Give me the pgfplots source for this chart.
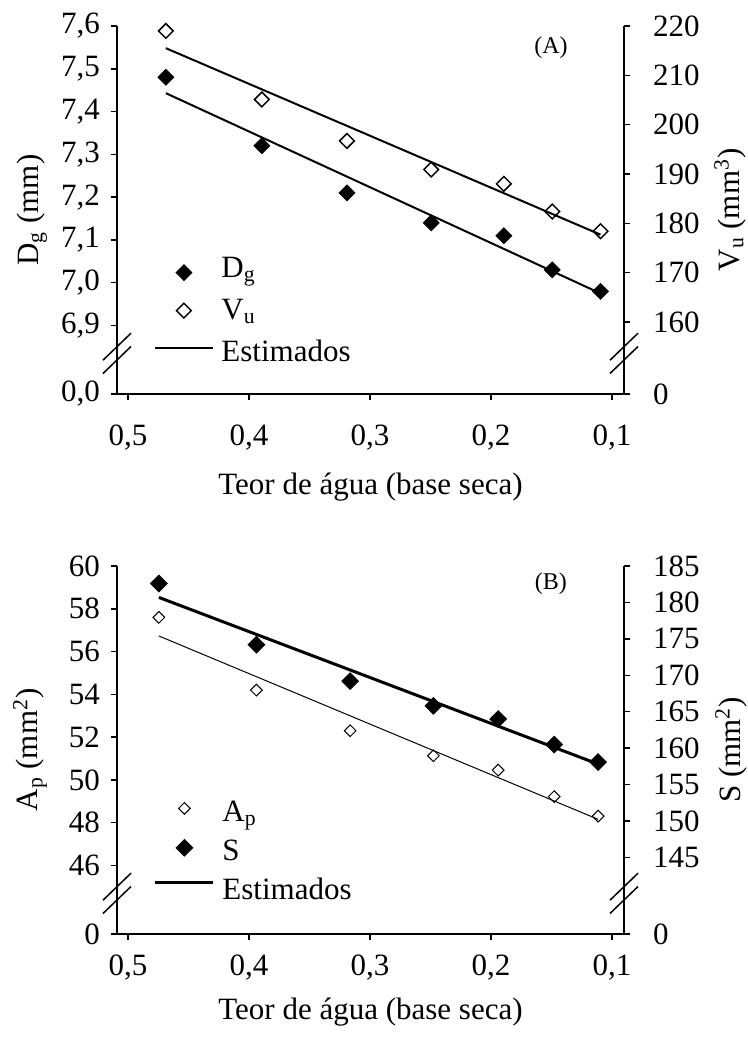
\documentclass[border=0pt]{standalone}
\usepackage{fontspec}
\setmainfont{Liberation Serif}
\usepackage{pgfplots}
\usepackage{pgfplotstable}
\pgfplotsset{compat=1.18}

% painel A
\pgfplotstableread{
x      Dg    Vu
0.4686 7.48  219.0
0.3893 7.32  205.1
0.3190 7.21  196.7
0.2493 7.14  190.9
0.1893 7.11  188.0
0.1493 7.03  182.4
0.1094 6.98  178.4
}\dadosA

% painel B
\pgfplotstableread{
x      Ap     S
0.4744 57.60  182.6
0.3938 54.20  174.2
0.3163 52.30  169.2
0.2475 51.13  165.8
0.1940 50.46  164.0
0.1477 49.22  160.5
0.1114 48.31  158.1
}\dadosB

\newcommand{\fs}{\fontsize{15.5}{18}\selectfont}

\pgfplotsset{
  painel/.style={
    scale only axis,
    width=253.5pt, height=184pt,
    xmin=0.090, xmax=0.509,
    x dir=reverse,
    axis line style={line width=0.75pt, -},
    tick style={line width=0.75pt, black},
    tick align=outside,
    major tick length=3pt,
    clip=false,
    xtick={0.1,0.2,0.3,0.4,0.5},
    xticklabels={{0,1},{0,2},{0,3},{0,4},{0,5}},
    ticklabel style={font=\fs},
    label style={font=\fs},
    /pgf/number format/assume math mode=true,
  },
  esq/.style={
    axis y line*=left, axis x line*=bottom,
    yticklabel style={xshift=-2pt},
    legend cell align=left,
  },
  dir/.style={
    axis y line*=right, axis x line=none,
    yticklabel style={xshift=8pt},
  },
}

\begin{document}
\begin{tikzpicture}
\path[use as bounding box] (-58.5pt,197pt) rectangle (315.5pt,-321.5pt);

% ---------- (A) eixo esquerdo ----------
\begin{axis}[painel, esq, at={(0pt,0pt)}, anchor=south west,
  ymin=6.74, ymax=7.6,
  ytick={6.74,6.9,7.0,7.1,7.2,7.3,7.4,7.5,7.6},
  yticklabels={{0,0},{6,9},{7,0},{7,1},{7,2},{7,3},{7,4},{7,5},{7,6}},
  xticklabel style={yshift=-9pt},
  xlabel={Teor de água (base seca)},
  ylabel={D\textsubscript{g} (mm)},
  xlabel style={at={(axis description cs:0.5,0)}, anchor=center, yshift=-46.5pt},
  ylabel style={at={(axis description cs:-0.168,0.5)}, anchor=center},
  legend style={draw=none, fill=none, inner sep=0pt, row sep=0pt,
    at={(rel axis cs:0.072,0.388)}, anchor=north west, font=\fs,
    nodes={inner xsep=3.75pt, inner ysep=0pt, text height=13pt, text depth=8pt}},
]
\addplot[forget plot, line width=1pt] coordinates {(0.4686,7.443)(0.1094,6.975)};
\addplot[forget plot, only marks, mark=square*, mark size=2.8pt,
  mark options={rotate=45, fill=black, draw=black}] table[x=x, y=Dg] {\dadosA};
\addlegendimage{legend image code/.code={%
  \path[draw=none] (0pt,0pt) (29pt,0pt);
  \path[draw=black, fill=black] plot[only marks, mark=square*, mark size=2.8pt, mark options={rotate=45}] coordinates {(14.5pt,0pt)};}}
\addlegendentry{D\textsubscript{g}}
\addlegendimage{legend image code/.code={%
  \path[draw=none] (0pt,0pt) (29pt,0pt);
  \path[draw=black, line width=0.75pt] plot[only marks, mark=square, mark size=2.6pt, mark options={rotate=45}] coordinates {(14.5pt,2pt)};}}
\addlegendentry{V\textsubscript{u}}
\addlegendimage{legend image code/.code={%
  \draw[black, line width=1pt] (0pt,4.5pt) -- (29pt,4.5pt);}}
\addlegendentry{Estimados}
\end{axis}

% ---------- (A) eixo direito ----------
\begin{axis}[painel, dir, at={(0pt,0pt)}, anchor=south west,
  ymin=145.4, ymax=220,
  ytick={145.4,160,170,180,190,200,210,220},
  yticklabels={0,160,170,180,190,200,210,220},
  ylabel={V\textsubscript{u} (mm\textsuperscript{3})},
  ylabel style={at={(axis description cs:1.209,0.5)}, anchor=center},
]
\addplot[line width=1pt] coordinates {(0.4686,215.5)(0.1094,177.7)};
\addplot[only marks, mark=square, mark size=2.6pt,
  mark options={rotate=45, draw=black, line width=0.75pt}] table[x=x, y=Vu] {\dadosA};
\node[font=\fontsize{12}{14}\selectfont] at (rel axis cs:0.856,0.940) {(A)};
\draw[line width=0.75pt] (rel axis cs:0,0) ++(-7pt,16.9pt) -- ++(14pt,13.5pt);
\draw[line width=0.75pt] (rel axis cs:0,0) ++(-7pt,10.25pt) -- ++(14pt,13.5pt);
\draw[line width=0.75pt] (rel axis cs:1,0) ++(-7pt,16.9pt) -- ++(14pt,13.5pt);
\draw[line width=0.75pt] (rel axis cs:1,0) ++(-7pt,10.25pt) -- ++(14pt,13.5pt);
\end{axis}

% ---------- (B) eixo esquerdo ----------
\begin{axis}[painel, esq, at={(0pt,-270pt)}, anchor=south west,
  ymin=42.8, ymax=60,
  ytick={42.8,46,48,50,52,54,56,58,60},
  yticklabels={0,46,48,50,52,54,56,58,60},
  xticklabel style={yshift=-4pt},
  xlabel={Teor de água (base seca)},
  ylabel={A\textsubscript{p} (mm\textsuperscript{2})},
  xlabel style={at={(axis description cs:0.5,0)}, anchor=center, yshift=-39pt},
  ylabel style={at={(axis description cs:-0.1716,0.5)}, anchor=center},
  legend style={draw=none, fill=none, inner sep=0pt, row sep=0pt,
    at={(rel axis cs:0.072,0.378)}, anchor=north west, font=\fs,
    nodes={inner xsep=3.75pt, inner ysep=0pt, text height=13pt, text depth=6.5pt}},
]
\addplot[forget plot, line width=0.5pt] coordinates {(0.4744,56.73)(0.1114,48.16)};
\addplot[forget plot, only marks, mark=square, mark size=2.06pt,
  mark options={rotate=45, draw=black, line width=0.5pt}] table[x=x, y=Ap] {\dadosB};
\addlegendimage{legend image code/.code={%
  \path[draw=none] (0pt,0pt) (29pt,0pt);
  \path[draw=black, line width=0.5pt] plot[only marks, mark=square, mark size=2.06pt, mark options={rotate=45}] coordinates {(14.5pt,3.2pt)};}}
\addlegendentry{A\textsubscript{p}}
\addlegendimage{legend image code/.code={%
  \path[draw=none] (0pt,0pt) (29pt,0pt);
  \path[draw=black, fill=black] plot[only marks, mark=square*, mark size=2.95pt, mark options={rotate=45}] coordinates {(14.5pt,3pt)};}}
\addlegendentry{S}
\addlegendimage{legend image code/.code={%
  \draw[black, line width=1.5pt] (0pt,5pt) -- (29pt,5pt);}}
\addlegendentry{Estimados}
\end{axis}

% ---------- (B) eixo direito ----------
\begin{axis}[painel, dir, at={(0pt,-270pt)}, anchor=south west,
  ymin=134.5, ymax=185,
  ytick={134.5,145,150,155,160,165,170,175,180,185},
  yticklabels={0,145,150,155,160,165,170,175,180,185},
  ylabel={S (mm\textsuperscript{2})},
  ylabel style={at={(axis description cs:1.211,0.5)}, anchor=center},
]
\addplot[line width=1.5pt] coordinates {(0.4744,180.69)(0.1114,157.82)};
\addplot[only marks, mark=square*, mark size=2.95pt,
  mark options={rotate=45, fill=black, draw=black}] table[x=x, y=S] {\dadosB};
\node[font=\fontsize{12}{14}\selectfont] at (rel axis cs:0.856,0.953) {(B)};
\draw[line width=0.75pt] (rel axis cs:0,0) ++(-7pt,16.9pt) -- ++(14pt,13.5pt);
\draw[line width=0.75pt] (rel axis cs:0,0) ++(-7pt,10.25pt) -- ++(14pt,13.5pt);
\draw[line width=0.75pt] (rel axis cs:1,0) ++(-7pt,16.9pt) -- ++(14pt,13.5pt);
\draw[line width=0.75pt] (rel axis cs:1,0) ++(-7pt,10.25pt) -- ++(14pt,13.5pt);
\end{axis}
\end{tikzpicture}
\end{document}
